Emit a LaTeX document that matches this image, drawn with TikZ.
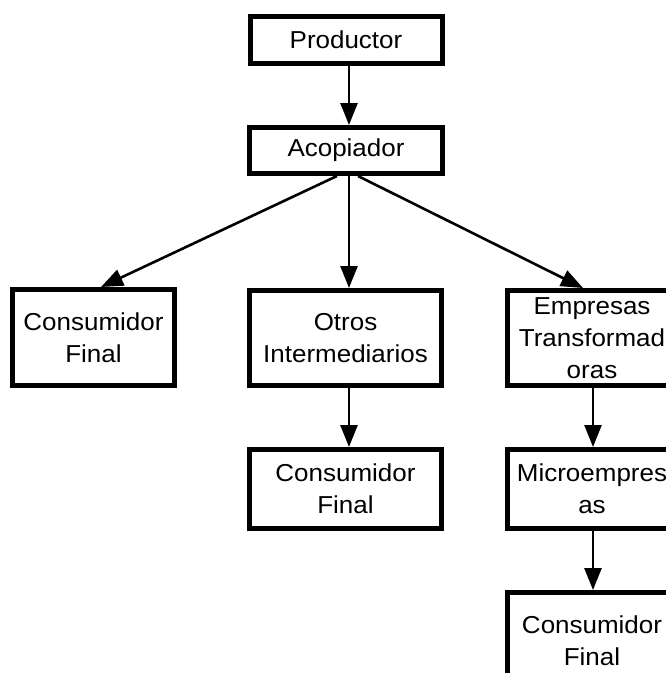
\documentclass[tikz,border=0pt]{standalone}
\usepackage{fontspec}
\setmainfont{Liberation Sans}[FakeStretch=1.06]
\usetikzlibrary{arrows.meta}
\tikzset{
  boxnode/.style={draw=black, line width=5pt, fill=white, inner sep=0pt, align=center,
    font=\fontsize{24.5pt}{32pt}\selectfont},
  flowarrow/.style={line width=2.6pt, -{Triangle[length=22pt,width=17pt]}}
}
\begin{document}
\begin{tikzpicture}[x=1pt,y=-1pt]
\useasboundingbox[fill=white] (0,0) rectangle (666,673);
\node[boxnode, minimum width=192pt, minimum height=47pt] (prod) at (346,39.5) {Productor};
\node[boxnode, minimum width=193pt, minimum height=46pt] (acop) at (346,150.5) {Acopiador};
\node[boxnode, minimum width=162pt, minimum height=96pt] (cf1) at (93.5,337.5) {Consumidor\\Final};
\node[boxnode, minimum width=192pt, minimum height=95pt] (otros) at (345.5,338) {Otros\\Intermediarios};
\node[boxnode, minimum width=192pt, minimum height=79pt] (cf2) at (345.5,489) {Consumidor\\Final};
\node[boxnode, minimum width=169pt, minimum height=95pt] (emp) at (592,338) {Empresas\\Transformad\\oras};
\node[boxnode, minimum width=169pt, minimum height=79pt] (micro) at (592,489) {Microempres\\as};
\node[boxnode, minimum width=169pt, minimum height=96pt] (cf3) at (592,640.5) {Consumidor\\Final};
\draw[flowarrow] ([xshift=3pt]prod.south) -- ([xshift=3pt]acop.north);
\draw[flowarrow] ([xshift=-9pt]acop.south) -- ([xshift=7.5pt]cf1.north);
\draw[flowarrow] ([xshift=3pt]acop.south) -- ([xshift=3.5pt]otros.north);
\draw[flowarrow] ([xshift=12pt]acop.south) -- ([xshift=-9pt]emp.north);
\draw[flowarrow] ([xshift=3.5pt]otros.south) -- ([xshift=3.5pt]cf2.north);
\draw[flowarrow] ([xshift=1pt]emp.south) -- ([xshift=1pt]micro.north);
\draw[flowarrow] ([xshift=1pt]micro.south) -- ([xshift=1pt]cf3.north);
\end{tikzpicture}
\end{document}
